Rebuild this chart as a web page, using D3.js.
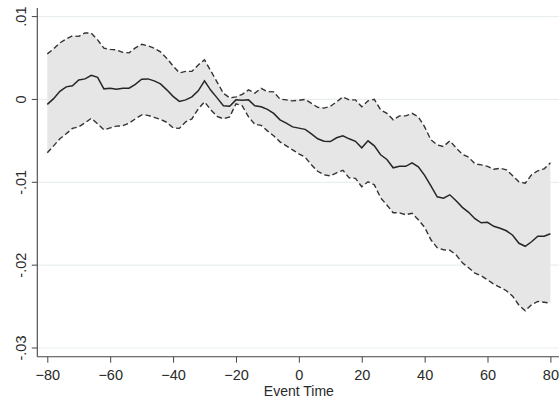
<!DOCTYPE html>
<html>
<head>
<meta charset="utf-8">
<script src="https://cdn.jsdelivr.net/npm/d3@7/dist/d3.min.js"></script>
<style>
  html, body { margin: 0; padding: 0; background: #fff; }
  svg { display: block; }
  text { font-family: "Liberation Sans", Arial, sans-serif; fill: #2a2a2a; }
</style>
</head>
<body>
<svg id="chart" width="559" height="397"></svg>
<script>
// Event time grid (every second period)
const eventTime = [
  -80,-78,-76,-74,-72,-70,-68,-66,-64,-62,-60,-58,-56,-54,-52,-50,-48,-46,-44,-42,
  -40,-38,-36,-34,-32,-30,-28,-26,-24,-22,-20,-18,-16,-14,-12,-10,-8,-6,-4,-2,
  0,2,4,6,8,10,12,14,16,18,20,22,24,26,28,30,32,34,36,38,
  40,42,44,46,48,50,52,54,56,58,60,62,64,66,68,70,72,74,76,78,80
];

// Point estimate
const estimate = [
  -0.00060, 0.00010, 0.00098, 0.00152, 0.00164, 0.00236, 0.00248, 0.00291, 0.00267, 0.00128,
   0.00136, 0.00122, 0.00134, 0.00136, 0.00182, 0.00245, 0.00248, 0.00224, 0.00188, 0.00116,
   0.00037,-0.00023,-0.00005, 0.00031, 0.00104, 0.00224, 0.00110, 0.00019,-0.00077,-0.00083,
  -0.00005,-0.00011,-0.00005,-0.00077,-0.00089,-0.00119,-0.00168,-0.00246,-0.00286,-0.00331,
  -0.00346,-0.00361,-0.00415,-0.00475,-0.00505,-0.00508,-0.00463,-0.00439,-0.00475,-0.00505,
  -0.00584,-0.00499,-0.00560,-0.00668,-0.00725,-0.00825,-0.00807,-0.00807,-0.00765,-0.00813,
  -0.00916,-0.01042,-0.01175,-0.01191,-0.01151,-0.01223,-0.01302,-0.01362,-0.01440,-0.01489,
  -0.01483,-0.01531,-0.01555,-0.01585,-0.01639,-0.01736,-0.01772,-0.01718,-0.01651,-0.01651,
  -0.01621
];

// Upper confidence bound
const upperCI = [
   0.00550, 0.00610, 0.00683, 0.00731, 0.00767, 0.00761, 0.00803, 0.00800, 0.00719, 0.00619,
   0.00604, 0.00598, 0.00568, 0.00562, 0.00622, 0.00665, 0.00647, 0.00619, 0.00574, 0.00496,
   0.00405, 0.00321, 0.00339, 0.00339, 0.00417, 0.00478, 0.00345, 0.00210, 0.00075, 0.00019,
   0.00031, 0.00062, 0.00116, 0.00076, 0.00134, 0.00095, 0.00092, 0.00004,-0.00005,-0.00017,
  -0.00011, 0.00001,-0.00047,-0.00095,-0.00105,-0.00083,-0.00029, 0.00031,-0.00005,-0.00005,
  -0.00089,-0.00017, 0.00001,-0.00125,-0.00168,-0.00246,-0.00198,-0.00198,-0.00168,-0.00210,
  -0.00331,-0.00487,-0.00548,-0.00568,-0.00499,-0.00584,-0.00662,-0.00698,-0.00777,-0.00789,
  -0.00807,-0.00843,-0.00831,-0.00849,-0.00922,-0.00994,-0.01010,-0.00910,-0.00861,-0.00837,
  -0.00765
];

// Lower confidence bound
const lowerCI = [
  -0.00644,-0.00560,-0.00475,-0.00415,-0.00349,-0.00331,-0.00282,-0.00228,-0.00294,-0.00367,
  -0.00343,-0.00322,-0.00318,-0.00286,-0.00234,-0.00186,-0.00192,-0.00216,-0.00240,-0.00276,
  -0.00343,-0.00349,-0.00270,-0.00234,-0.00113,-0.00029,-0.00125,-0.00204,-0.00234,-0.00210,
  -0.00053,-0.00077,-0.00210,-0.00300,-0.00312,-0.00379,-0.00439,-0.00512,-0.00560,-0.00608,
  -0.00656,-0.00697,-0.00789,-0.00867,-0.00910,-0.00922,-0.00885,-0.00855,-0.00946,-0.00952,
  -0.01054,-0.00994,-0.01030,-0.01187,-0.01274,-0.01368,-0.01368,-0.01392,-0.01374,-0.01452,
  -0.01543,-0.01694,-0.01790,-0.01814,-0.01820,-0.01875,-0.01971,-0.02031,-0.02098,-0.02128,
  -0.02176,-0.02230,-0.02267,-0.02309,-0.02375,-0.02484,-0.02550,-0.02478,-0.02438,-0.02448,
  -0.02457
];

const xTicks = [-80, -60, -40, -20, 0, 20, 40, 60, 80];
const yTicks = [0.01, 0, -0.01, -0.02, -0.03];
const yTickLabels = [".01", "0", "-.01", "-.02", "-.03"];
const xTitle = "Event Time";

const svg = d3.select("#chart");
const W = 559, H = 397;

const x = d3.scaleLinear().domain([-80, 80]).range([47.3, 550.4]);
const y = d3.scaleLinear().domain([-0.03, 0.01]).range([348, 16.6]);

// plot frame edges
const axisX = 37.3, axisY = 356.7, topY = 8, rightX = W;

const rows = eventTime.map((t, i) => ({ t, est: estimate[i], lo: lowerCI[i], hi: upperCI[i] }));

// horizontal gridlines
svg.append("g").selectAll("line").data(yTicks).join("line")
  .attr("x1", axisX).attr("x2", rightX)
  .attr("y1", d => y(d)).attr("y2", d => y(d))
  .attr("stroke", "#e9eff0").attr("stroke-width", 1.2);

// confidence band
svg.append("path").datum(rows)
  .attr("d", d3.area().x(d => x(d.t)).y0(d => y(d.lo)).y1(d => y(d.hi)))
  .attr("fill", "#e6e6e6");

// dashed confidence bounds
[d => y(d.hi), d => y(d.lo)].forEach(yAcc => {
  svg.append("path").datum(rows)
    .attr("d", d3.line().x(d => x(d.t)).y(yAcc))
    .attr("fill", "none").attr("stroke", "#333").attr("stroke-width", 1.4)
    .attr("stroke-dasharray", "5.5,3");
});

// point estimate
svg.append("path").datum(rows)
  .attr("d", d3.line().x(d => x(d.t)).y(d => y(d.est)))
  .attr("fill", "none").attr("stroke", "#262626").attr("stroke-width", 1.5);

// axes
const xAxis = svg.append("g").attr("transform", `translate(0,${axisY})`)
  .call(d3.axisBottom(x).tickValues(xTicks).tickSize(6).tickPadding(7).tickFormat(d3.format("d")));
xAxis.select(".domain").remove();
xAxis.selectAll(".tick line").attr("stroke", "#444");
xAxis.selectAll(".tick text").style("font-size", "14.5px").attr("fill", "#2a2a2a")
  .style("font-family", "'Liberation Sans', Arial, sans-serif");

svg.append("line").attr("x1", axisX).attr("x2", rightX).attr("y1", axisY).attr("y2", axisY)
  .attr("stroke", "#444").attr("stroke-width", 1.1);
svg.append("line").attr("x1", axisX).attr("x2", axisX).attr("y1", topY).attr("y2", axisY)
  .attr("stroke", "#444").attr("stroke-width", 1.1);

// y ticks and rotated labels
const yg = svg.append("g");
yg.selectAll("line").data(yTicks).join("line")
  .attr("x1", axisX - 5.5).attr("x2", axisX)
  .attr("y1", d => y(d)).attr("y2", d => y(d))
  .attr("stroke", "#444");
yg.selectAll("text").data(yTicks).join("text")
  .attr("transform", d => `translate(20.5,${y(d)}) rotate(-90)`)
  .attr("text-anchor", "middle").attr("dominant-baseline", "central")
  .style("font-size", "14.5px")
  .text((d, i) => yTickLabels[i]);

// x title
svg.append("text").attr("x", x(0)).attr("y", 395.5)
  .attr("text-anchor", "middle").style("font-size", "14px")
  .text(xTitle);
</script>
</body>
</html>
